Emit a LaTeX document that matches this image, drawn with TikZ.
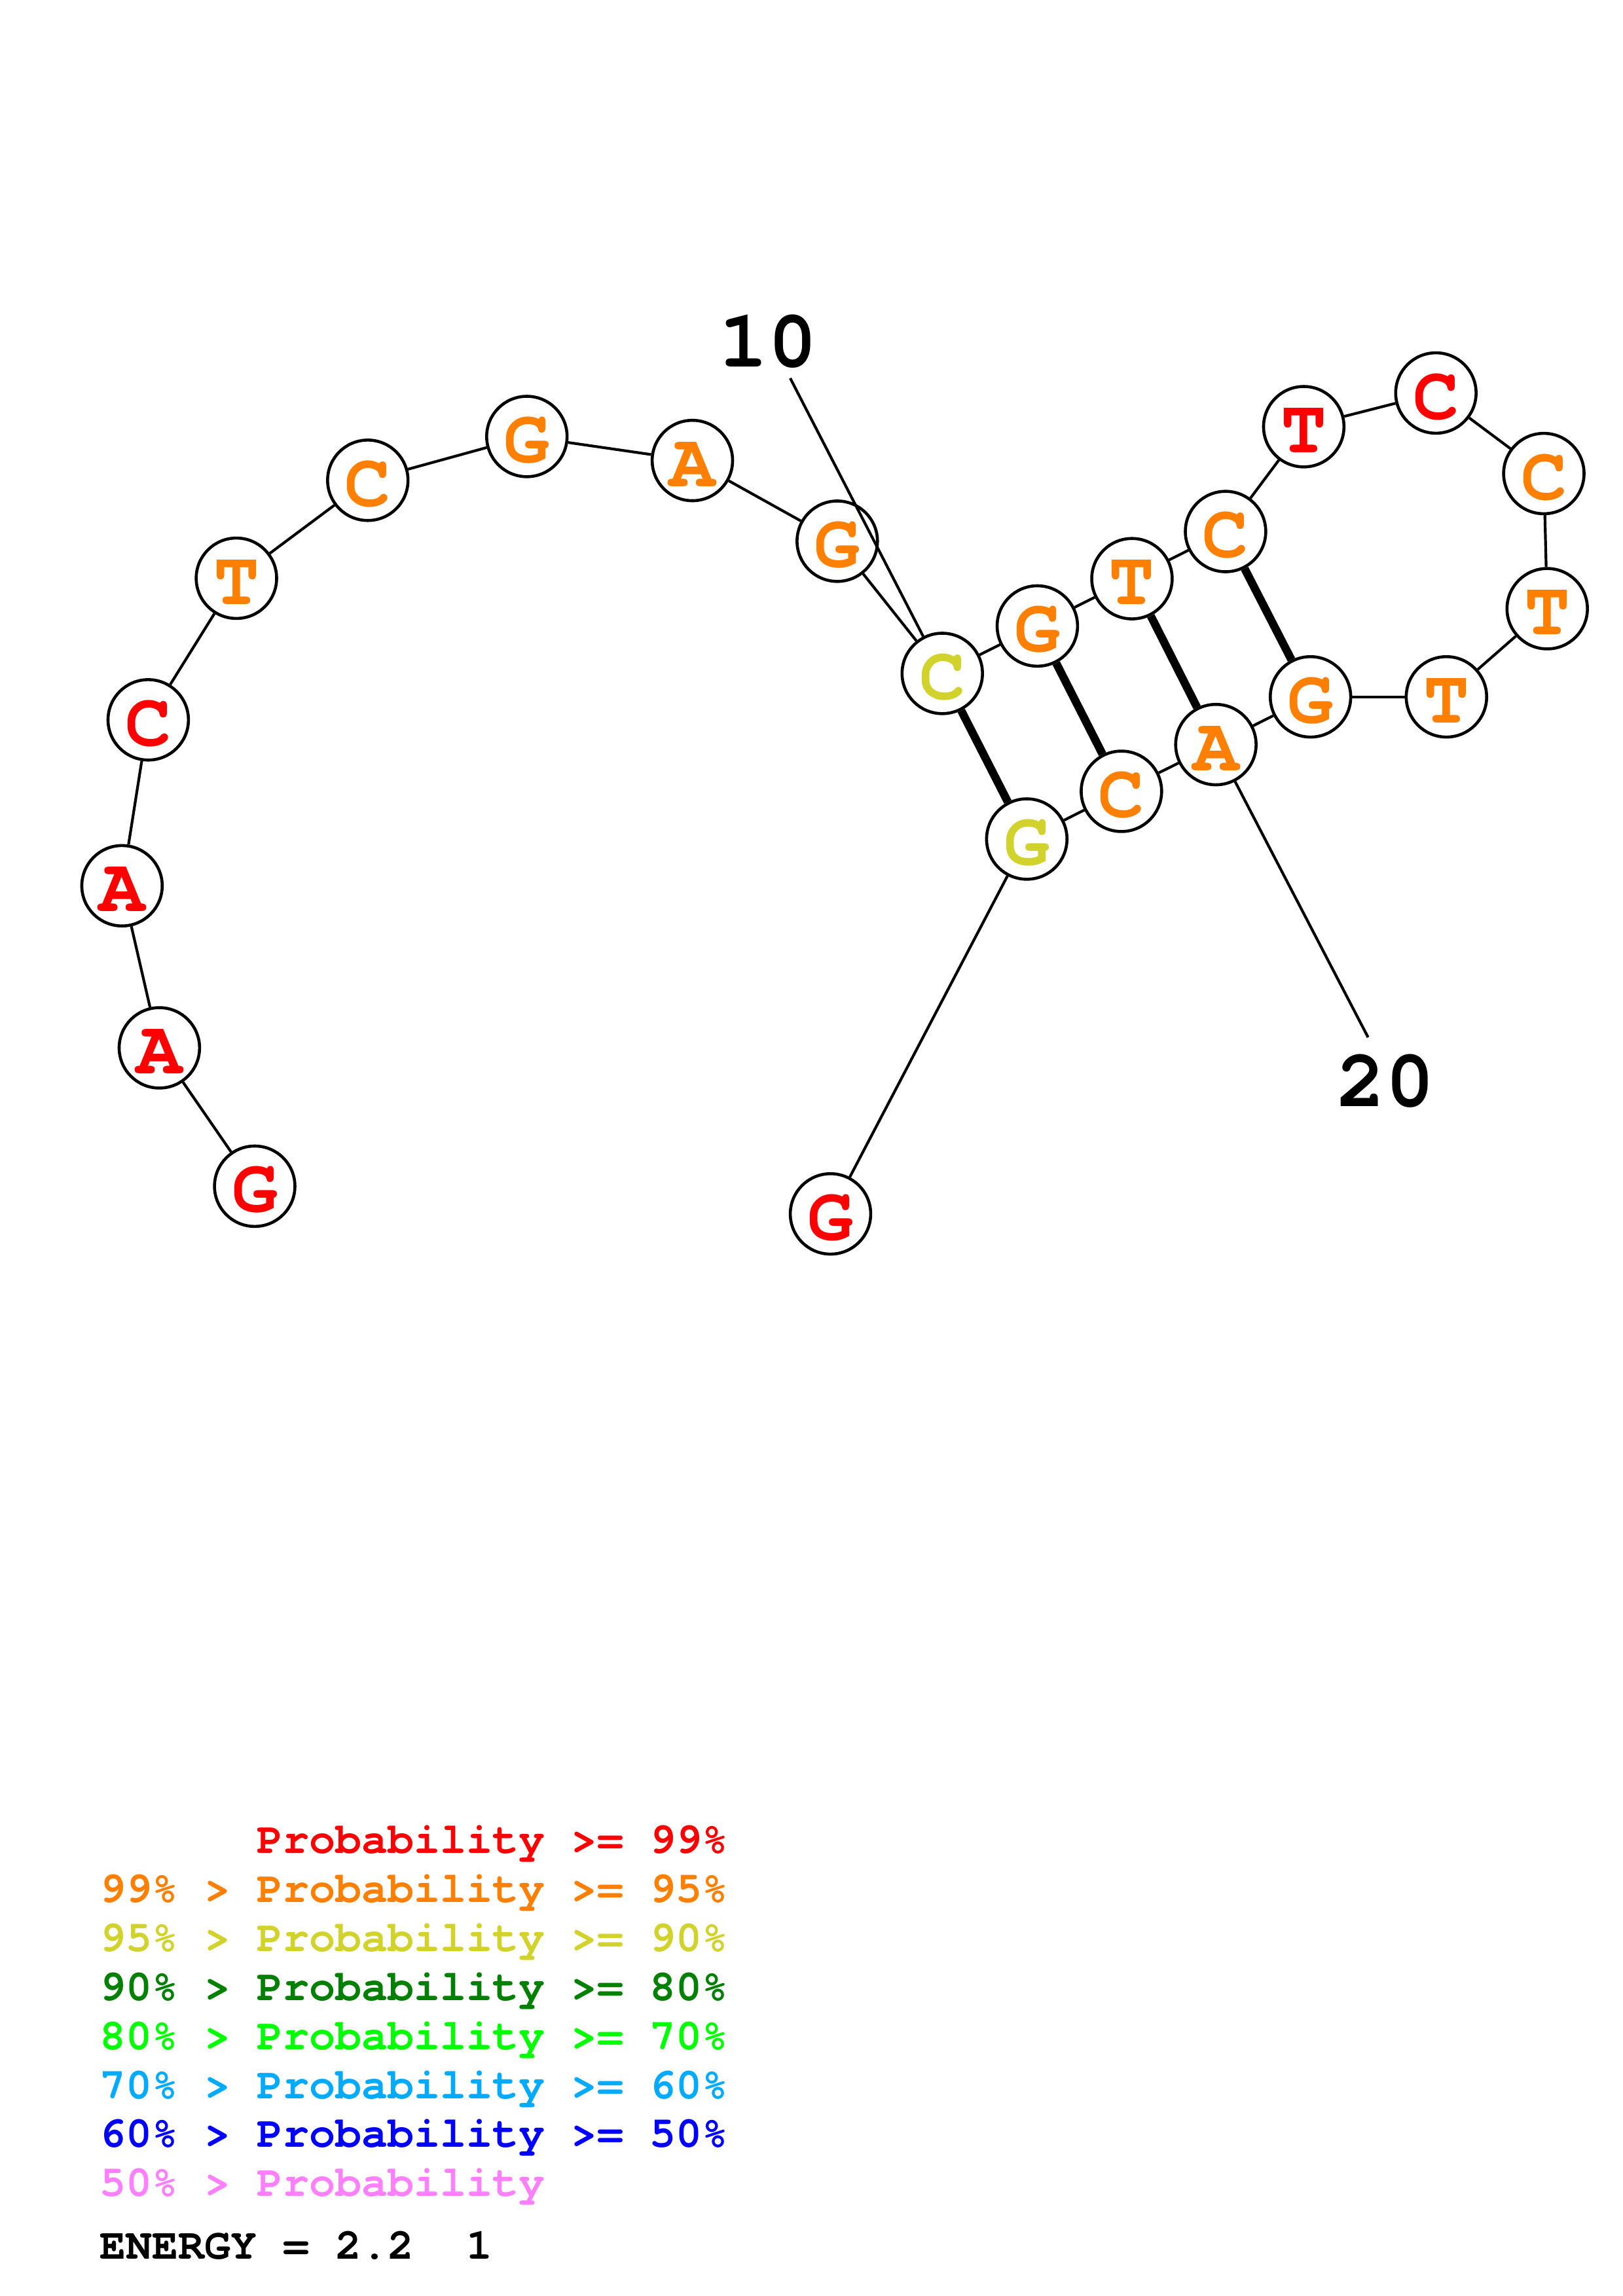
\documentclass[tikz,border=0pt]{standalone}
\usepackage{fontspec}
\newfontfamily\monob{TeX Gyre Cursor}
\definecolor{pred}{RGB}{255,0,0}
\definecolor{porange}{RGB}{255,128,0}
\definecolor{pyellow}{RGB}{210,210,45}
\definecolor{pdgreen}{RGB}{0,128,0}
\definecolor{plgreen}{RGB}{0,255,0}
\definecolor{plblue}{RGB}{0,170,255}
\definecolor{pblue}{RGB}{0,0,255}
\definecolor{ppink}{RGB}{255,128,255}
\tikzset{
  nt/.style={circle, draw=black, line width=1.1pt, fill=white, minimum size=29.5pt,
    inner sep=0pt, font=\monob\bfseries\fontsize{28}{28}\selectfont,
    text height=19pt, text depth=0pt},
  bb/.style={line width=1pt},
  bp/.style={line width=3pt},
  lab/.style={font=\monob\bfseries\fontsize{30}{30}\selectfont, inner sep=0pt},
  leg/.style={font=\monob\bfseries\fontsize{16}{16}\selectfont, anchor=base west, inner sep=0pt},
}
\begin{document}
\begin{tikzpicture}[x=0.53727pt, y=-0.53727pt]
\useasboundingbox (0,0) rectangle (1108,1568);
% nucleotides
\node[nt, text=pred]    (n1)  at (173.9,810.1) {G};
\node[nt, text=pred]    (n2)  at (108.8,715.6) {A};
\node[nt, text=pred]    (n3)  at (83.3,604.9)  {A};
\node[nt, text=pred]    (n4)  at (101.2,491.6) {C};
\node[nt, text=porange] (n5)  at (161.4,394.9) {T};
\node[nt, text=porange] (n6)  at (251.1,328.0) {C};
\node[nt, text=porange] (n7)  at (359.7,298.1) {G};
\node[nt, text=porange] (n8)  at (472.7,314.5) {A};
\node[nt, text=porange] (n9)  at (571.6,369.6) {G};
\node[nt, text=pyellow] (n10) at (643.3,459.9) {C};
\node[nt, text=porange] (n11) at (708.2,427.5) {G};
\node[nt, text=porange] (n12) at (772.8,395.2) {T};
\node[nt, text=porange] (n13) at (836.7,363.0) {C};
\node[nt, text=pred]    (n14) at (890.1,291.4) {T};
\node[nt, text=pred]    (n15) at (980.3,268.4) {C};
\node[nt, text=porange] (n16) at (1054.0,323.4) {C};
\node[nt, text=porange] (n17) at (1056.3,415.7) {T};
\node[nt, text=porange] (n18) at (987.5,475.9) {T};
\node[nt, text=porange] (n19) at (894.7,475.9) {G};
\node[nt, text=porange] (n20) at (830.1,508.5) {A};
\node[nt, text=porange] (n21) at (765.6,540.4) {C};
\node[nt, text=pyellow] (n22) at (701.0,573.0) {G};
\node[nt, text=pred]    (n23) at (567.0,829.0) {G};
% backbone
\foreach \a/\b in {1/2,2/3,3/4,4/5,5/6,6/7,7/8,8/9,9/10,10/11,11/12,12/13,13/14,14/15,15/16,16/17,17/18,18/19,19/20,20/21,21/22,22/23}
  \draw[bb] (n\a) -- (n\b);
% base pairs
\draw[bp] (n10) -- (n22);
\draw[bp] (n11) -- (n21);
\draw[bp] (n12) -- (n20);
\draw[bp] (n13) -- (n19);
% position labels
\node[lab] (lab10) at (524.7,233) {10};
\node[lab] (lab20) at (945.8,738) {20};
\coordinate (t10) at (539.5,258.3);
\coordinate (t20) at (934,708.4);
\draw[bb] (t10) -- (n10);
\draw[bb] (n20) -- (t20);
% legend
\node[leg, text=pred]    (leg1) at (68,1265.5) {\phantom{99\% > }Probability >= 99\%};
\node[leg, text=porange] (leg2) at (68,1299.0) {99\% > Probability >= 95\%};
\node[leg, text=pyellow] (leg3) at (68,1332.5) {95\% > Probability >= 90\%};
\node[leg, text=pdgreen] (leg4) at (68,1366.0) {90\% > Probability >= 80\%};
\node[leg, text=plgreen] (leg5) at (68,1399.5) {80\% > Probability >= 70\%};
\node[leg, text=plblue]  (leg6) at (68,1433.0) {70\% > Probability >= 60\%};
\node[leg, text=pblue]   (leg7) at (68,1466.5) {60\% > Probability >= 50\%};
\node[leg, text=ppink]   (leg8) at (68,1500.0) {50\% > Probability};
\node[leg, text=black]   (energy) at (68,1542.8) {ENERGY = 2.2\ \ 1};
\end{tikzpicture}
\end{document}
